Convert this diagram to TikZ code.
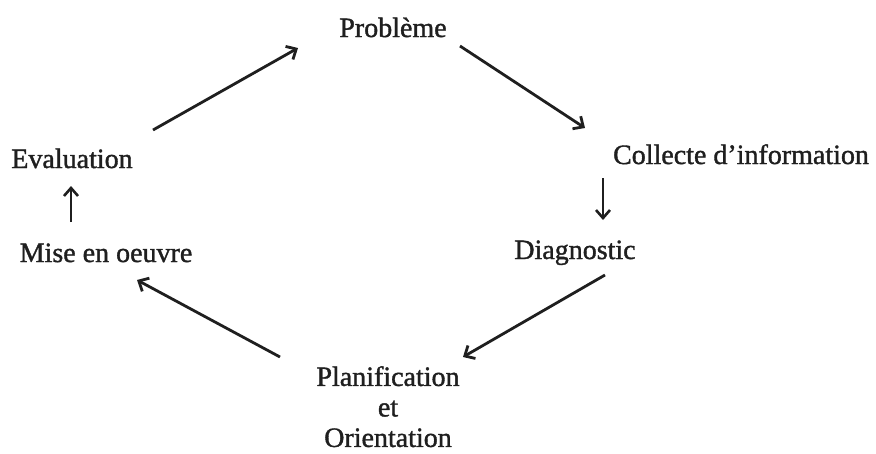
\documentclass[tikz,border=0pt]{standalone}
\usepackage{fontspec}
\setmainfont{Liberation Serif}
\newfontfamily\lblfont[FakeBold=1.3]{Liberation Serif}
\usetikzlibrary{arrows.meta}
\begin{document}
\begin{tikzpicture}[x=1pt,y=-1pt,
  lbl/.style={inner sep=0pt,font=\lblfont\fontsize{28}{30.5}\selectfont,text=black!88},
  arr/.style={line width=2.8pt,black!88,-{Straight Barb[length=8pt,width=15pt,line width=2.8pt]}},
  varr/.style={line width=2.4pt,black!88,-{Straight Barb[length=8pt,width=14pt,line width=2.6pt]}}]
\useasboundingbox (0,0) rectangle (876,453);
\node[lbl,anchor=base] (prob) at (393,37) {Problème};
\node[lbl,anchor=base] (coll) at (741,164) {Collecte d’information};
\node[lbl,anchor=base] (diag) at (575,259) {Diagnostic};
\node[lbl,anchor=north,align=center] (plan) at (388,366) {Planification\\et\\Orientation};
\node[lbl,anchor=base] (mise) at (106,262) {Mise en oeuvre};
\node[lbl,anchor=base] (eval) at (72,168) {Evaluation};
\draw[arr] ([shift={(81,-38)}]eval.base) -- ([shift={(-95,11)}]prob.base);
\draw[arr] ([shift={(67,9)}]prob.base) -- ([shift={(-156,-36)}]coll.base);
\draw[varr] ([shift={(-138,14)}]coll.base) -- ([shift={(28,-39)}]diag.base);
\draw[arr] ([shift={(30,16)}]diag.base) -- ([shift={(75,-9)}]plan.north);
\draw[arr] ([shift={(-108,-9)}]plan.north) -- ([shift={(31,18)}]mise.base);
\draw[varr] ([shift={(-35,-40)}]mise.base) -- ([shift={(-1,18)}]eval.base);
\end{tikzpicture}
\end{document}
